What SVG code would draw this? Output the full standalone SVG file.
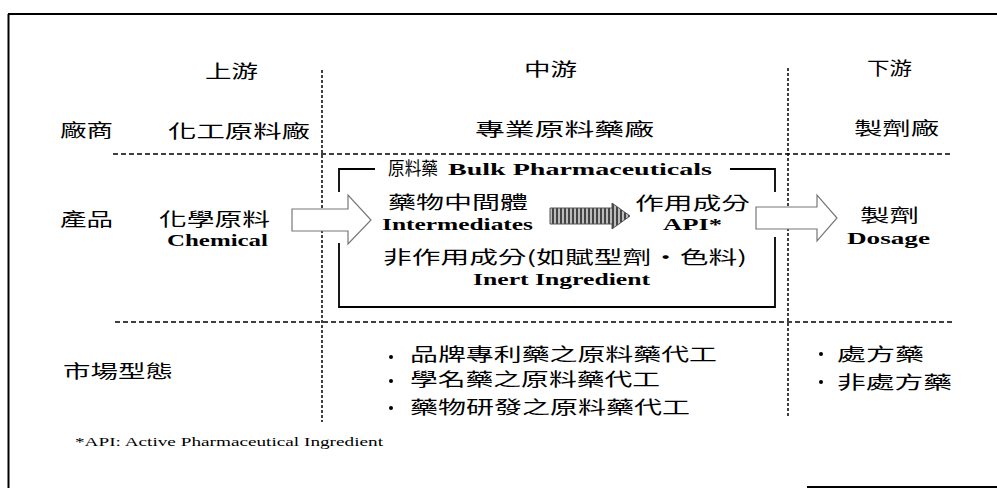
<svg xmlns="http://www.w3.org/2000/svg" width="997" height="488" viewBox="0 0 997 488">
<style>
.cjk{font-family:"Noto Sans CJK TC","Noto Sans CJK SC",sans-serif;font-size:18px;fill:#000}
.en{font-family:"Liberation Serif",serif;font-weight:bold;font-size:16px;fill:#000}
.fn{font-family:"Liberation Serif",serif;font-size:12px;fill:#000}
.dash{stroke:#000;stroke-width:1.5;stroke-dasharray:5 3;fill:none}
.vdash{stroke:#000;stroke-width:1.5;stroke-dasharray:3 2;fill:none}
.box{stroke:#000;stroke-width:1.8;fill:none}
.harrow{fill:#fff;stroke:#777;stroke-width:1.2}
</style>
<defs>
<pattern id="stripes" width="4" height="4" patternUnits="userSpaceOnUse">
<rect width="4" height="4" fill="#bbb"/>
<rect width="2" height="4" fill="#444"/>
</pattern>
</defs>
<g id="frame">
<path d="M8,14 H997 M8.5,14 V488 M807,487 H997" stroke="#000" stroke-width="2" fill="none"/>
</g>
<g id="connectors">
<path class="dash" d="M113,154 H952 M115,322 H952"/>
<path class="vdash" d="M322,70 V422"/>
<path class="vdash" d="M788,68 V418" stroke-width="2.5"/>
<path class="box" d="M375,169 H339 V192 M339,243 V307 H775 V237 M775,192 V169 H730"/>
<polygon class="harrow" points="292,209 348,209 348,195 371,220 348,244 348,231 292,231"/>
<polygon class="harrow" points="756,207 817,207 817,195 837,218 817,241 817,229 756,229"/>
<polygon points="550,208 612,208 612,203 630,216 612,229 612,224 550,224" fill="url(#stripes)" stroke="#555" stroke-width="1"/>
</g>
<g id="headers">
<text class="cjk" x="205" y="78" textLength="53" lengthAdjust="spacingAndGlyphs">上游</text>
<text class="cjk" x="524" y="76" textLength="53" lengthAdjust="spacingAndGlyphs">中游</text>
<text class="cjk" x="867" y="75" textLength="45" lengthAdjust="spacingAndGlyphs">下游</text>
</g>
<g id="row-maker">
<text class="cjk" x="60" y="137" textLength="53" lengthAdjust="spacingAndGlyphs">廠商</text>
<text class="cjk" x="168" y="138" textLength="142" lengthAdjust="spacingAndGlyphs">化工原料廠</text>
<text class="cjk" x="475" y="136" textLength="179" lengthAdjust="spacingAndGlyphs">專業原料藥廠</text>
<text class="cjk" x="854" y="135" textLength="85" lengthAdjust="spacingAndGlyphs">製劑廠</text>
</g>
<g id="row-product">
<text class="cjk" x="60" y="226" textLength="53" lengthAdjust="spacingAndGlyphs">產品</text>
<text class="cjk" x="159" y="226" textLength="111" lengthAdjust="spacingAndGlyphs">化學原料</text>
<text class="en" x="167" y="246" textLength="101" lengthAdjust="spacingAndGlyphs">Chemical</text>
</g>
<g id="bulk">
<text class="cjk" x="388" y="175" textLength="50" lengthAdjust="spacingAndGlyphs">原料藥</text>
<text class="en" x="448" y="175" textLength="264" lengthAdjust="spacingAndGlyphs">Bulk Pharmaceuticals</text>
</g>
<g id="intermediates">
<text class="cjk" x="388" y="209" textLength="140" lengthAdjust="spacingAndGlyphs">藥物中間體</text>
<text class="en" x="382" y="230" textLength="151" lengthAdjust="spacingAndGlyphs">Intermediates</text>
</g>
<g id="api">
<text class="cjk" x="635" y="210" textLength="115" lengthAdjust="spacingAndGlyphs">作用成分</text>
<text class="en" x="663" y="230" textLength="59" lengthAdjust="spacingAndGlyphs">API*</text>
</g>
<g id="inert">
<text class="cjk" x="383" y="264" font-size="17" textLength="364" lengthAdjust="spacingAndGlyphs">非作用成分(如賦型劑・色料)</text>
<text class="en" x="473" y="285" font-size="15" textLength="177" lengthAdjust="spacingAndGlyphs">Inert Ingredient</text>
</g>
<g id="dosage">
<text class="cjk" x="860" y="222" textLength="59" lengthAdjust="spacingAndGlyphs">製劑</text>
<text class="en" x="847" y="244" textLength="83" lengthAdjust="spacingAndGlyphs">Dosage</text>
</g>
<g id="market">
<text class="cjk" x="63" y="378" textLength="110" lengthAdjust="spacingAndGlyphs">市場型態</text>
<circle cx="391" cy="357" r="2"/>
<text class="cjk" x="410" y="361" textLength="307" lengthAdjust="spacingAndGlyphs">品牌專利藥之原料藥代工</text>
<circle cx="391" cy="381" r="2"/>
<text class="cjk" x="410" y="386" textLength="250" lengthAdjust="spacingAndGlyphs">學名藥之原料藥代工</text>
<circle cx="391" cy="408" r="2"/>
<text class="cjk" x="410" y="414" textLength="280" lengthAdjust="spacingAndGlyphs">藥物研發之原料藥代工</text>
<circle cx="821" cy="354" r="2"/>
<text class="cjk" x="837" y="361" textLength="87" lengthAdjust="spacingAndGlyphs">處方藥</text>
<circle cx="821" cy="382" r="2"/>
<text class="cjk" x="837" y="389" textLength="115" lengthAdjust="spacingAndGlyphs">非處方藥</text>
</g>
<g id="footnote">
<text class="fn" x="75" y="446" textLength="308" lengthAdjust="spacingAndGlyphs">*API: Active Pharmaceutical Ingredient</text>
</g>
</svg>
